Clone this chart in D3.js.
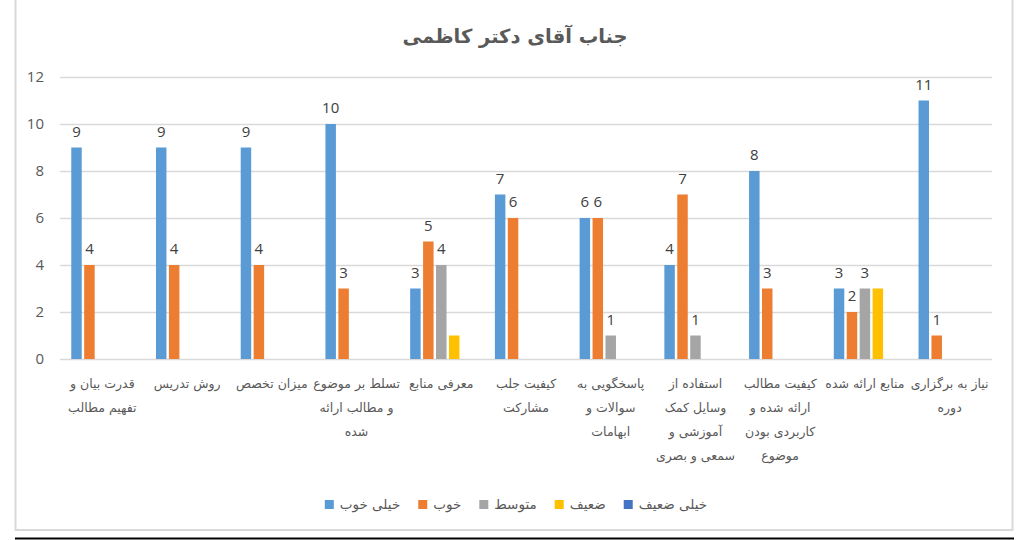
<!DOCTYPE html>
<html>
<head>
<meta charset="utf-8">
<script src="https://cdn.jsdelivr.net/npm/d3@7"></script>
<style>
  html, body { margin: 0; padding: 0; background: #fff; }
  svg { display: block; }
</style>
</head>
<body>
<svg id="chart"></svg>
<script>
// chart data
var title = "جناب آقای دکتر کاظمی";
var categories = [
    ["قدرت بیان و", "تفهیم مطالب"],
    ["روش تدریس"],
    ["میزان تخصص"],
    ["تسلط بر موضوع", "و مطالب ارائه", "شده"],
    ["معرفی منابع"],
    ["کیفیت جلب", "مشارکت"],
    ["پاسخگویی به", "سوالات و", "ابهامات"],
    ["استفاده از", "وسایل کمک", "آموزشی و", "سمعی و بصری"],
    ["کیفیت مطالب", "ارائه شده و", "کاربردی بودن", "موضوع"],
    ["منابع ارائه شده"],
    ["نیاز به برگزاری", "دوره"]
];
var seriesNames = ["خیلی خوب", "خوب", "متوسط", "ضعیف", "خیلی ضعیف"];
var seriesColors = ["#5b9bd5", "#ed7d31", "#a5a5a5", "#ffc000", "#4472c4"];
var veryGood = [9, 9, 9, 10, 3, 7, 6, 4, 8, 3, 11];
var good     = [4, 4, 4, 3, 5, 6, 6, 7, 3, 2, 1];
var average  = [0, 0, 0, 0, 4, 0, 1, 1, 0, 3, 0];
var weak     = [0, 0, 0, 0, 1, 0, 0, 0, 0, 3, 0];
var veryWeak = [0, 0, 0, 0, 0, 0, 0, 0, 0, 0, 0];
var seriesValues = [veryGood, good, average, weak, veryWeak];
var labelledSeries = [true, true, true, false, false];
var yTicks = [0, 2, 4, 6, 8, 10, 12];

var width = 1024, height = 540;
var faFont = "'DejaVu Sans', sans-serif";
var numFont = "'Open Sans', 'Liberation Sans', sans-serif";

var svg = d3.select("#chart").attr("width", width).attr("height", height);

// chart frame
svg.append("rect")
    .attr("x", 15.5).attr("y", -5)
    .attr("width", 997).attr("height", 535)
    .attr("fill", "#fff")
    .attr("stroke", "#d9d9d9")
    .attr("stroke-width", 2);

svg.append("line")
    .attr("x1", 15).attr("x2", 1014)
    .attr("y1", 538.5).attr("y2", 538.5)
    .attr("stroke", "#000")
    .attr("stroke-width", 2);

var plot = { left: 60, right: 992, top: 77, bottom: 359 };

var x = d3.scaleBand()
    .domain(d3.range(categories.length))
    .range([plot.left, plot.right])
    .padding(0);

var xInner = d3.scaleBand()
    .domain(d3.range(seriesNames.length))
    .range([0, x.bandwidth()])
    .paddingInner(0.19)
    .paddingOuter(0.87);

var y = d3.scaleLinear()
    .domain([0, 12])
    .range([plot.bottom, plot.top]);

// gridlines + y labels
var yAxis = d3.axisLeft(y)
    .tickValues(yTicks)
    .tickSize(-(plot.right - plot.left))
    .tickPadding(16);

var gy = svg.append("g")
    .attr("transform", "translate(" + plot.left + ",0)")
    .call(yAxis);
gy.select(".domain").remove();
gy.selectAll(".tick line").attr("stroke", "#d9d9d9").attr("stroke-width", 1.3);
gy.selectAll(".tick text")
    .attr("fill", "#595959")
    .style("font-family", numFont)
    .style("font-size", "15px");

// bars
seriesValues.forEach(function (vals, si) {
    var g = svg.append("g");
    g.selectAll("rect")
        .data(vals)
        .enter().append("rect")
        .attr("x", function (d, i) { return x(i) + xInner(si); })
        .attr("y", function (d) { return y(d); })
        .attr("width", xInner.bandwidth())
        .attr("height", function (d) { return y(0) - y(d); })
        .attr("fill", seriesColors[si]);

    if (labelledSeries[si]) {
        g.selectAll("text")
            .data(vals.map(function (v, i) { return { v: v, i: i }; }).filter(function (d) { return d.v > 0; }))
            .enter().append("text")
            .attr("x", function (d) { return x(d.i) + xInner(si) + xInner.bandwidth() / 2; })
            .attr("y", function (d) { return y(d.v) - 11; })
            .attr("text-anchor", "middle")
            .attr("fill", "#404040")
            .style("font-family", numFont)
            .style("font-size", "15px")
            .text(function (d) { return d.v; });
    }
});

// category labels
var cat = svg.append("g");
categories.forEach(function (lines, i) {
    var t = cat.append("text")
        .attr("x", x(i) + x.bandwidth() / 2)
        .attr("y", 388)
        .attr("text-anchor", "middle")
        .attr("direction", "rtl")
        .attr("fill", "#595959")
        .style("font-family", faFont)
        .style("font-size", "12.5px");
    lines.forEach(function (line, li) {
        t.append("tspan")
            .attr("x", x(i) + x.bandwidth() / 2)
            .attr("dy", li === 0 ? 0 : 24)
            .text(line);
    });
});

// title
svg.append("text")
    .attr("x", 515)
    .attr("y", 43)
    .attr("text-anchor", "middle")
    .attr("direction", "rtl")
    .attr("fill", "#595959")
    .style("font-family", faFont)
    .style("font-weight", "bold")
    .style("font-size", "19.5px")
    .text(title);

// legend
var legend = svg.append("g");
var cursor = 0;
seriesNames.forEach(function (name, i) {
    var item = legend.append("g");
    item.append("rect")
        .attr("x", 0).attr("y", -9)
        .attr("width", 9).attr("height", 9)
        .attr("fill", seriesColors[i]);
    var label = item.append("text")
        .attr("x", 15)
        .attr("y", 0)
        .attr("fill", "#595959")
        .style("font-family", faFont)
        .style("font-size", "13.5px")
        .text(name);
    var w = 15 + label.node().getComputedTextLength();
    item.attr("transform", "translate(" + cursor + ",0)");
    cursor += w + 18;
});
var legendWidth = cursor - 18;
legend.attr("transform", "translate(" + (516 - legendWidth / 2) + ",509)");
</script>
</body>
</html>
